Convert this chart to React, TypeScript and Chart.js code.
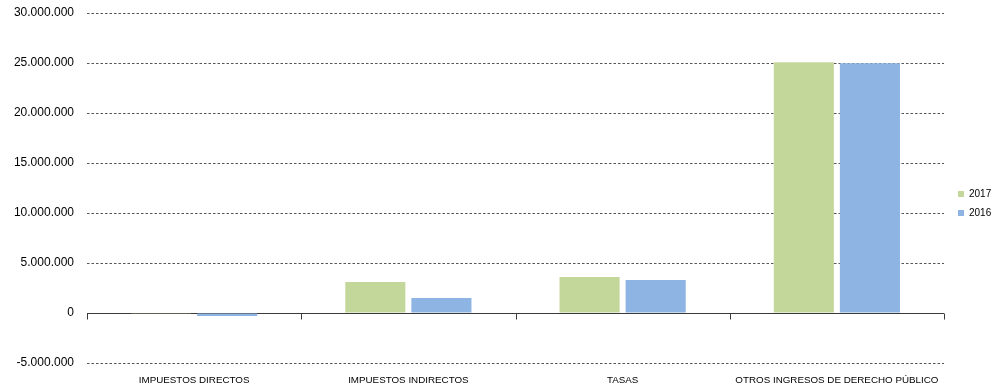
import React, { useEffect, useRef } from "react";
import { Chart, registerables } from "chart.js";

Chart.register(...registerables);

const categories = [
  "IMPUESTOS DIRECTOS",
  "IMPUESTOS INDIRECTOS",
  "TASAS",
  "OTROS INGRESOS DE DERECHO PÚBLICO",
];
const values2017 = [-80000, 3100000, 3600000, 25080000];
const values2016 = [-300000, 1500000, 3300000, 24980000];
const seriesLabels = ["2017", "2016"];
const seriesColors = ["#C4D79B", "#8DB4E2"];
const yMin = -5000000;
const yMax = 30000000;
const yStep = 5000000;

const FONT = "'Liberation Sans', Arial, sans-serif";

const fmt = (v: number) => {
  const s = Math.abs(Math.round(v)).toString().replace(/\B(?=(\d{3})+(?!\d))/g, ".");
  return (v < 0 ? "-" : "") + s;
};

const zeroAxisPlugin = {
  id: "zeroAxis",
  beforeDatasetsDraw(chart: any) {
    const { ctx, chartArea, scales } = chart;
    const y0 = Math.round(scales.y.getPixelForValue(0)) + 0.5;
    ctx.save();
    ctx.strokeStyle = "#3a3a3a";
    ctx.lineWidth = 1;
    ctx.setLineDash([]);
    ctx.beginPath();
    ctx.moveTo(chartArea.left, y0);
    ctx.lineTo(chartArea.right, y0);
    for (let i = 0; i <= categories.length; i++) {
      const x = Math.round(scales.x.getPixelForValue(i - 0.5)) + 0.5;
      ctx.moveTo(x, y0);
      ctx.lineTo(x, y0 + 6);
    }
    ctx.stroke();
    ctx.restore();
  },
};

const legendPlugin = {
  id: "sideLegend",
  afterDraw(chart: any) {
    const { ctx, chartArea } = chart;
    const ds = chart.data.datasets;
    const x = chartArea.right + 14;
    const rowGap = 19.5;
    const cy = chart.height / 2 + 8;
    const startY = cy - ((ds.length - 1) * rowGap) / 2;
    ctx.save();
    ctx.font = `10px ${FONT}`;
    ctx.textBaseline = "middle";
    ctx.textAlign = "left";
    ds.forEach((d: any, i: number) => {
      const y = startY + i * rowGap;
      ctx.fillStyle = d.backgroundColor;
      ctx.fillRect(x, Math.round(y - 3), 6, 6);
      ctx.fillStyle = "#000";
      ctx.fillText(d.label, x + 11, y);
    });
    ctx.restore();
  },
};

export default function App() {
  const ref = useRef<HTMLCanvasElement | null>(null);
  useEffect(() => {
    if (!ref.current) return;
    const chart = new Chart(ref.current, {
      type: "bar",
      data: {
        labels: categories,
        datasets: [
          {
            label: seriesLabels[0],
            data: values2017,
            backgroundColor: seriesColors[0],
            categoryPercentage: 0.617,
            barPercentage: 0.909,
          },
          {
            label: seriesLabels[1],
            data: values2016,
            backgroundColor: seriesColors[1],
            categoryPercentage: 0.617,
            barPercentage: 0.909,
          },
        ],
      },
      options: {
        animation: false,
        responsive: true,
        maintainAspectRatio: false,
        layout: { padding: { top: 0, right: 52, left: 0, bottom: 0 } },
        plugins: {
          tooltip: { enabled: false },
          legend: { display: false },
        },
        scales: {
          x: {
            grid: { display: false, drawTicks: false },
            border: { display: false },
            ticks: {
              color: "#000",
              padding: 11,
              maxRotation: 0,
              autoSkip: false,
              font: { family: FONT, size: 9.8 },
            },
            afterFit: (s: any) => {
              s.height = 28;
            },
          },
          y: {
            min: yMin,
            max: yMax,
            border: { display: false, dash: [2.5, 2] },
            grid: { color: "#555", drawTicks: false, lineWidth: 1 },
            ticks: {
              stepSize: yStep,
              color: "#000",
              padding: 13,
              font: { family: FONT, size: 12 },
              callback: (v: any) => fmt(Number(v)),
            },
            afterFit: (s: any) => {
              s.width = 87;
              s.paddingTop = 13;
              s.paddingBottom = 0;
            },
          },
        },
      },
      plugins: [zeroAxisPlugin, legendPlugin],
    });
    return () => chart.destroy();
  }, []);
  return (
    <div style={{ position: "absolute", left: 0, top: 0, width: 996, height: 391, background: "#fff" }}>
      <canvas ref={ref} />
    </div>
  );
}
